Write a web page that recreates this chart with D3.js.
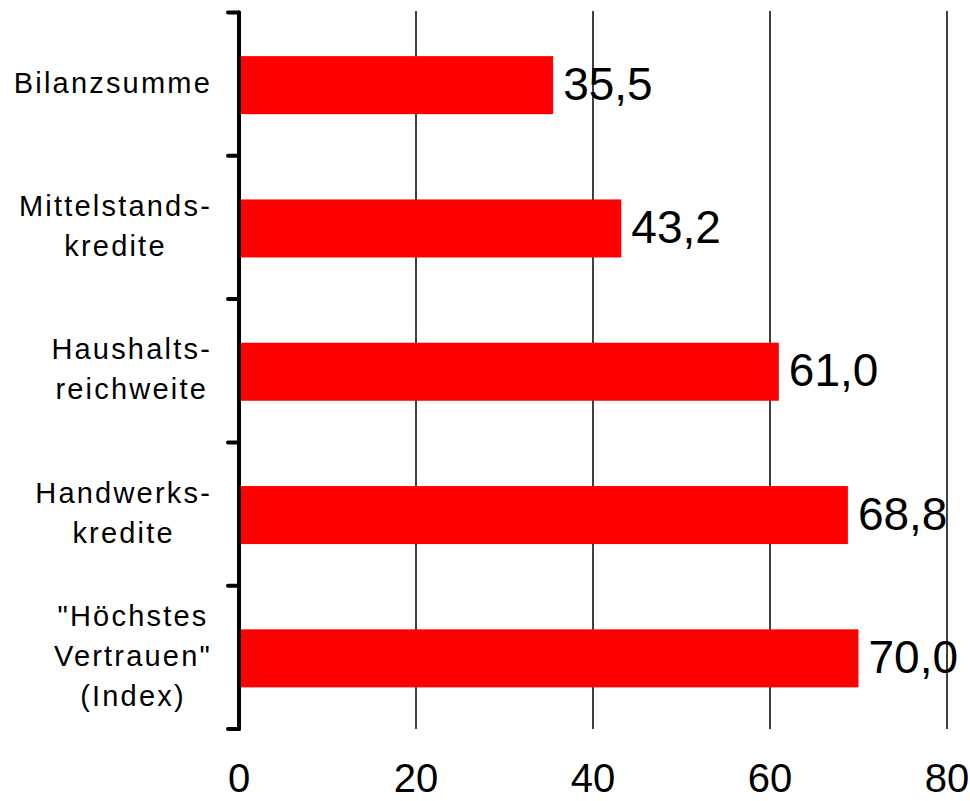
<!DOCTYPE html>
<html>
<head>
<meta charset="utf-8">
<script src="https://cdn.jsdelivr.net/npm/d3@7/dist/d3.min.js"></script>
<style>
  html, body { margin: 0; padding: 0; background: #fff; }
  svg { display: block; }
  text { font-family: "Liberation Sans", Arial, Helvetica, sans-serif; fill: #000; }
</style>
</head>
<body>
<svg id="chart" width="970" height="801"></svg>
<script>
const categories = [
  ["Bilanzsumme"],
  ["Mittelstands-", "kredite"],
  ["Haushalts-", "reichweite"],
  ["Handwerks-", "kredite"],
  ["\"Höchstes", "Vertrauen\"", "(Index)"]
];
const values = [35.5, 43.2, 61.0, 68.8, 70.0];
const valueLabels = ["35,5", "43,2", "61,0", "68,8", "70,0"];
const xTicks = [0, 20, 40, 60, 80];

const svg = d3.select("#chart");
const x = d3.scaleLinear().domain([0, 80]).range([239, 947]);
const y = d3.scaleBand().domain(d3.range(values.length)).range([12.5, 729]).paddingInner(0.595).paddingOuter(0.2975);
const yTick = d3.scaleLinear().domain([0, values.length]).range([12.5, 729]);

// gridlines
svg.append("g").selectAll("line").data(xTicks.slice(1)).join("line")
  .attr("x1", d => x(d)).attr("x2", d => x(d))
  .attr("y1", 11).attr("y2", 729)
  .attr("stroke", "#000").attr("stroke-width", 1.5);

// bars
svg.append("g").selectAll("rect").data(values).join("rect")
  .attr("x", x(0) + 2)
  .attr("y", (d, i) => y(i) + 1)
  .attr("width", d => x(d) - x(0) - 2)
  .attr("height", y.bandwidth())
  .attr("fill", "#ff0000");

// left axis line + ticks
const axisG = svg.append("g");
axisG.append("line")
  .attr("x1", x(0)).attr("x2", x(0))
  .attr("y1", yTick(0)).attr("y2", yTick(values.length))
  .attr("stroke", "#000").attr("stroke-width", 4).attr("stroke-linecap", "round");
axisG.selectAll("line.tk").data(d3.range(values.length + 1)).join("line")
  .attr("class", "tk")
  .attr("x1", 228).attr("x2", x(0))
  .attr("y1", d => yTick(d)).attr("y2", d => yTick(d))
  .attr("stroke", "#000").attr("stroke-width", 4).attr("stroke-linecap", "round");

// value labels
svg.append("g").selectAll("text").data(values).join("text")
  .attr("x", d => x(d) + 10)
  .attr("y", (d, i) => y(i) + y.bandwidth() / 2 + 15.5)
  .attr("font-size", 46)
  .text((d, i) => valueLabels[i]);

// x tick labels
svg.append("g").selectAll("text").data(xTicks).join("text")
  .attr("x", d => x(d))
  .attr("y", 792)
  .attr("text-anchor", "middle")
  .attr("font-size", 40)
  .text(d => d);

// category labels (block right-aligned, lines centered within block)
const catG = svg.append("g");
categories.forEach((lines, i) => {
  const cy = y(i) + y.bandwidth() / 2;
  const g = catG.append("g");
  const texts = lines.map((ln, j) => g.append("text")
    .attr("font-size", 29)
    .attr("letter-spacing", 2.2)
    .attr("text-anchor", "middle")
    .attr("y", cy + 8.5 - (lines.length - 1) * 20 + j * 40)
    .text(ln));
  const maxW = d3.max(texts, t => t.node().getComputedTextLength());
  const center = 212 - maxW / 2;
  texts.forEach(t => t.attr("x", center));
});
</script>
</body>
</html>
